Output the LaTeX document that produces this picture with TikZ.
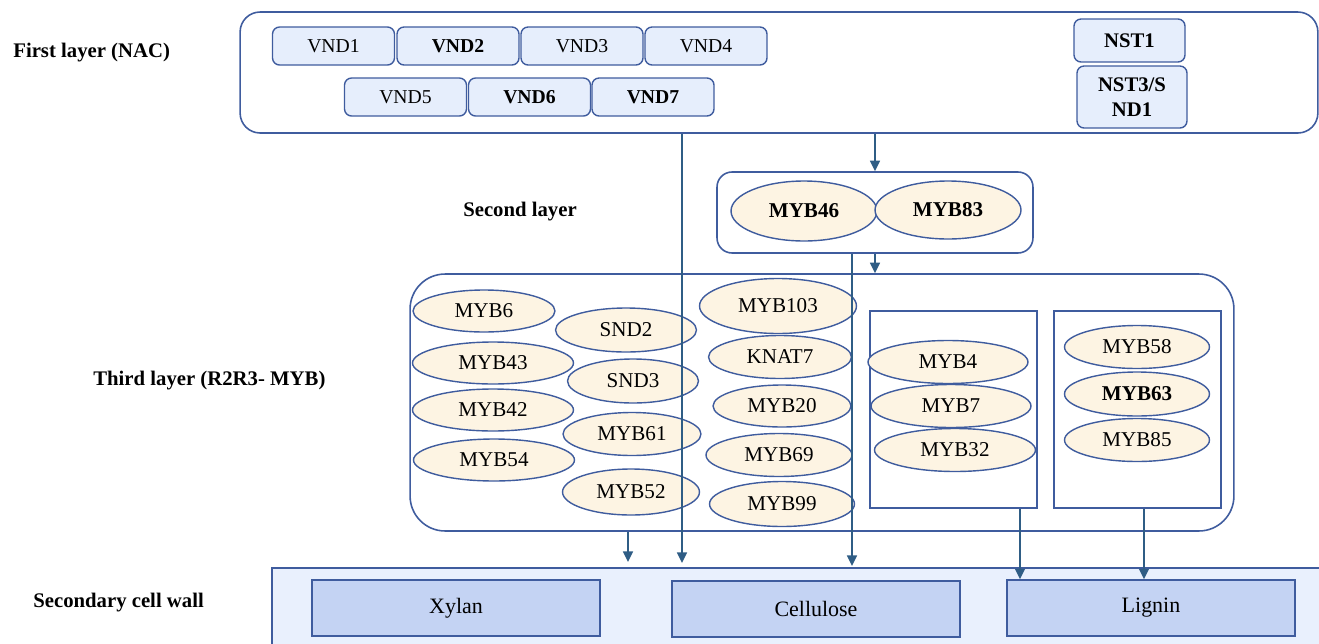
\documentclass[tikz,border=0pt]{standalone}
\usepackage{fontspec}
\setmainfont{Liberation Serif}
\usetikzlibrary{shapes.geometric,arrows.meta}
\definecolor{edgeblue}{HTML}{3F5C9E}
\definecolor{arrowblue}{HTML}{2F5D85}
\definecolor{vndfill}{HTML}{E6EEFC}
\definecolor{mybfill}{HTML}{FDF4E3}
\definecolor{wallfill}{HTML}{E9F0FD}
\definecolor{polyfill}{HTML}{C4D3F3}

\begin{document}
\begin{tikzpicture}[x=0.02cm,y=-0.02cm,
    every node/.style={font=\fontsize{12}{14}\selectfont},
    nac/.style={draw=edgeblue,fill=vndfill,line width=0.8pt,rounded corners=4pt,
        minimum width=2.44cm,minimum height=0.76cm,inner sep=0pt,
        font=\fontsize{11.2}{12}\selectfont},
    myb/.style={ellipse,draw=edgeblue,fill=mybfill,line width=0.8pt,inner sep=0pt,
        minimum height=0.84cm},
    layer/.style={draw=edgeblue,line width=0.9pt,inner sep=0pt},
    poly/.style={draw=edgeblue,fill=polyfill,line width=0.8pt,
        minimum width=5.76cm,minimum height=1.12cm,font=\fontsize{12.5}{14}\selectfont},
    tag/.style={anchor=west,inner sep=0pt,font=\fontsize{11.8}{14}\selectfont\bfseries},
    link/.style={draw=arrowblue,line width=1.3pt,-{Triangle[length=6pt,width=5.5pt]}}]
    \useasboundingbox (0,0) rectangle (1319,643);

    % row labels
    \node[tag] (t1) at (13,53) {First layer (NAC)};
    \node[tag,anchor=center] (t2) at (520,212) {Second layer};
    \node[tag] (t3) at (93,381) {Third layer (R2R3- MYB)};
    \node[tag] (t4) at (33,603) {Secondary cell wall};

    % first layer
    \node[layer,rounded corners=0.4cm,minimum width=21.56cm,minimum height=2.42cm] (L1) at (779,72.5) {};
    \node[nac] (vnd1) at (333.5,46) {VND1};
    \node[nac] (vnd2) at (458,46) {\bfseries VND2};
    \node[nac] (vnd3) at (582,46) {VND3};
    \node[nac] (vnd4) at (706,46) {VND4};
    \node[nac] (vnd5) at (405.5,97) {VND5};
    \node[nac] (vnd6) at (529.5,97) {\bfseries VND6};
    \node[nac] (vnd7) at (653,97) {\bfseries VND7};
    \node[nac,minimum width=2.22cm,minimum height=0.86cm,font=\fontsize{11.8}{13}\selectfont\bfseries] (nst1) at (1129.5,40.5) {NST1};
    \node[nac,minimum width=2.2cm,minimum height=1.24cm,align=center,font=\fontsize{11.8}{14}\selectfont\bfseries] (nst3) at (1132,97) {NST3/S\\ND1};

    % second layer
    \node[layer,rounded corners=0.3cm,minimum width=6.32cm,minimum height=1.62cm] (L2) at (875,212.5) {};
    \node[myb,minimum width=2.92cm,minimum height=1.2cm] (myb46) at (804,211) {\bfseries MYB46};
    \node[myb,minimum width=2.92cm,minimum height=1.16cm] (myb83) at (948,210) {\bfseries MYB83};

    % third layer
    \node[layer,rounded corners=0.7cm,minimum width=16.48cm,minimum height=5.14cm] (L3) at (822,402.5) {};
    \node[layer,minimum width=3.34cm,minimum height=3.94cm] (B1) at (953.5,409.5) {};
    \node[layer,minimum width=3.34cm,minimum height=3.94cm] (B2) at (1137.5,409.5) {};
    \node[myb,minimum width=2.84cm] (myb6) at (484,311) {MYB6};
    \node[myb,minimum width=3.22cm] (myb43) at (493,363) {MYB43};
    \node[myb,minimum width=3.22cm] (myb42) at (493,410) {MYB42};
    \node[myb,minimum width=3.22cm] (myb54) at (494,460) {MYB54};
    \node[myb,minimum width=2.82cm,minimum height=0.88cm] (snd2) at (626,330) {SND2};
    \node[myb,minimum width=2.62cm,minimum height=0.88cm] (snd3) at (633,381) {SND3};
    \node[myb,minimum width=2.76cm,minimum height=0.86cm] (myb61) at (632,434) {MYB61};
    \node[myb,minimum width=2.74cm,minimum height=0.92cm] (myb52) at (631,492) {MYB52};
    \node[myb,minimum width=3.14cm,minimum height=1.1cm] (myb103) at (778,306) {MYB103};
    \node[myb,minimum width=2.86cm,minimum height=0.86cm] (knat7) at (780,357) {KNAT7};
    \node[myb,minimum width=2.76cm] (myb20) at (782,406) {MYB20};
    \node[myb,minimum width=2.92cm,minimum height=0.86cm] (myb69) at (779,455) {MYB69};
    \node[myb,minimum width=2.9cm,minimum height=0.9cm] (myb99) at (782,504) {MYB99};
    \node[myb,minimum width=3.2cm,minimum height=0.86cm] (myb4) at (948,362) {MYB4};
    \node[myb,minimum width=3.2cm,minimum height=0.86cm] (myb7) at (951,406) {MYB7};
    \node[myb,minimum width=3.22cm,minimum height=0.86cm] (myb32) at (955,450) {MYB32};
    \node[myb,minimum width=2.9cm,minimum height=0.86cm] (myb58) at (1137,347) {MYB58};
    \node[myb,minimum width=2.9cm,minimum height=0.88cm] (myb63) at (1137,394) {\bfseries MYB63};
    \node[myb,minimum width=2.9cm,minimum height=0.86cm] (myb85) at (1137,440) {MYB85};

    % secondary cell wall
    \node[draw=edgeblue,fill=wallfill,line width=0.8pt,minimum width=21cm,minimum height=1.56cm] (scw) at (797,607) {};
    \node[poly] (xylan) at (456,608) {Xylan};
    \node[poly] (cellulose) at (816,609) {Cellulose};
    \node[poly] (lignin) at (1151,608) {Lignin};

    % regulation arrows
    \coordinate (c3) at (682,563);
    \coordinate (c4) at (852,566);
    \coordinate (c5) at (628,562);
    \coordinate (c6) at (1020,0);
    \coordinate (c7) at (1144,0);
    \draw[link] (L1.south -| L2.north) -- (L2.north);
    \draw[link] (L2.south) -- (L2.south |- L3.north);
    \draw[link] (c3 |- L1.south) -- (c3);
    \draw[link] (c4 |- L2.south) -- (c4);
    \draw[link] (c5 |- L3.south) -- (c5);
    \draw[link] (B1.south -| c6) -- (lignin.north -| c6);
    \draw[link] (B2.south -| c7) -- (lignin.north -| c7);
\end{tikzpicture}
\end{document}
